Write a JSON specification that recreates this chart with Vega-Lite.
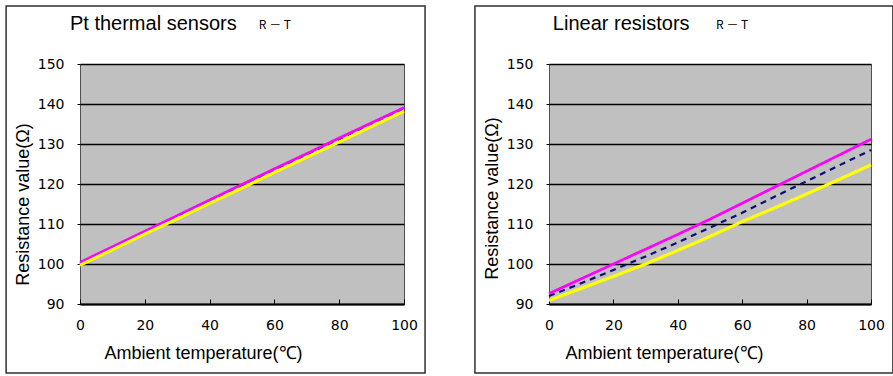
{
  "$schema": "https://vega.github.io/schema/vega-lite/v6.json",
  "background": "white",
  "padding": {"left": 4, "top": 4, "right": 0, "bottom": 0},
  "autosize": {"type": "pad"},
  "spacing": 46,
  "config": {
    "font": "Liberation Sans",
    "view": {"fill": "#c0c0c0", "stroke": "#505050", "strokeWidth": 1},
    "axis": {
      "labelFont": "DejaVu Sans",
      "labelFontSize": 14,
      "labelColor": "black",
      "labelOverlap": false,
      "labelFlush": false,
      "titleFont": "Liberation Sans",
      "titleFontSize": 18,
      "titleFontWeight": "normal",
      "titleColor": "black",
      "tickColor": "black"
    }
  },
  "datasets": {
    "curves": [
      {"panel": "Pt", "series": "navy", "t": 0, "r": 100.0},
      {"panel": "Pt", "series": "navy", "t": 10, "r": 103.9},
      {"panel": "Pt", "series": "navy", "t": 20, "r": 107.8},
      {"panel": "Pt", "series": "navy", "t": 30, "r": 111.7},
      {"panel": "Pt", "series": "navy", "t": 40, "r": 115.6},
      {"panel": "Pt", "series": "navy", "t": 50, "r": 119.6},
      {"panel": "Pt", "series": "navy", "t": 60, "r": 123.4},
      {"panel": "Pt", "series": "navy", "t": 70, "r": 127.1},
      {"panel": "Pt", "series": "navy", "t": 80, "r": 130.9},
      {"panel": "Pt", "series": "navy", "t": 90, "r": 134.7},
      {"panel": "Pt", "series": "navy", "t": 100, "r": 138.5},
      {"panel": "Pt", "series": "pink", "t": 0, "r": 100.4},
      {"panel": "Pt", "series": "pink", "t": 10, "r": 104.3},
      {"panel": "Pt", "series": "pink", "t": 20, "r": 108.2},
      {"panel": "Pt", "series": "pink", "t": 30, "r": 112.1},
      {"panel": "Pt", "series": "pink", "t": 40, "r": 116.0},
      {"panel": "Pt", "series": "pink", "t": 50, "r": 119.9},
      {"panel": "Pt", "series": "pink", "t": 60, "r": 123.8},
      {"panel": "Pt", "series": "pink", "t": 70, "r": 127.6},
      {"panel": "Pt", "series": "pink", "t": 80, "r": 131.5},
      {"panel": "Pt", "series": "pink", "t": 90, "r": 135.3},
      {"panel": "Pt", "series": "pink", "t": 100, "r": 139.1},
      {"panel": "Pt", "series": "yellow", "t": 0, "r": 99.7},
      {"panel": "Pt", "series": "yellow", "t": 10, "r": 103.6},
      {"panel": "Pt", "series": "yellow", "t": 20, "r": 107.5},
      {"panel": "Pt", "series": "yellow", "t": 30, "r": 111.3},
      {"panel": "Pt", "series": "yellow", "t": 40, "r": 115.2},
      {"panel": "Pt", "series": "yellow", "t": 50, "r": 119.0},
      {"panel": "Pt", "series": "yellow", "t": 60, "r": 122.9},
      {"panel": "Pt", "series": "yellow", "t": 70, "r": 126.7},
      {"panel": "Pt", "series": "yellow", "t": 80, "r": 130.5},
      {"panel": "Pt", "series": "yellow", "t": 90, "r": 134.4},
      {"panel": "Pt", "series": "yellow", "t": 100, "r": 138.2},
      {"panel": "Linear", "series": "navy", "t": 0, "r": 92.0},
      {"panel": "Linear", "series": "navy", "t": 10, "r": 95.2},
      {"panel": "Linear", "series": "navy", "t": 20, "r": 98.5},
      {"panel": "Linear", "series": "navy", "t": 30, "r": 101.9},
      {"panel": "Linear", "series": "navy", "t": 40, "r": 105.4},
      {"panel": "Linear", "series": "navy", "t": 50, "r": 109.1},
      {"panel": "Linear", "series": "navy", "t": 60, "r": 112.8},
      {"panel": "Linear", "series": "navy", "t": 70, "r": 116.8},
      {"panel": "Linear", "series": "navy", "t": 80, "r": 120.7},
      {"panel": "Linear", "series": "navy", "t": 90, "r": 124.6},
      {"panel": "Linear", "series": "navy", "t": 100, "r": 128.5},
      {"panel": "Linear", "series": "pink", "t": 0, "r": 92.6},
      {"panel": "Linear", "series": "pink", "t": 10, "r": 96.3},
      {"panel": "Linear", "series": "pink", "t": 20, "r": 100.0},
      {"panel": "Linear", "series": "pink", "t": 30, "r": 103.7},
      {"panel": "Linear", "series": "pink", "t": 40, "r": 107.4},
      {"panel": "Linear", "series": "pink", "t": 50, "r": 111.2},
      {"panel": "Linear", "series": "pink", "t": 60, "r": 115.2},
      {"panel": "Linear", "series": "pink", "t": 70, "r": 119.2},
      {"panel": "Linear", "series": "pink", "t": 80, "r": 123.2},
      {"panel": "Linear", "series": "pink", "t": 90, "r": 127.2},
      {"panel": "Linear", "series": "pink", "t": 100, "r": 131.2},
      {"panel": "Linear", "series": "yellow", "t": 0, "r": 90.9},
      {"panel": "Linear", "series": "yellow", "t": 10, "r": 93.9},
      {"panel": "Linear", "series": "yellow", "t": 20, "r": 96.9},
      {"panel": "Linear", "series": "yellow", "t": 30, "r": 100.0},
      {"panel": "Linear", "series": "yellow", "t": 40, "r": 103.4},
      {"panel": "Linear", "series": "yellow", "t": 50, "r": 106.9},
      {"panel": "Linear", "series": "yellow", "t": 60, "r": 110.6},
      {"panel": "Linear", "series": "yellow", "t": 70, "r": 114.0},
      {"panel": "Linear", "series": "yellow", "t": 80, "r": 117.5},
      {"panel": "Linear", "series": "yellow", "t": 90, "r": 121.1},
      {"panel": "Linear", "series": "yellow", "t": 100, "r": 124.8}
    ]
  },
  "hconcat": [
    {
      "width": 324,
      "height": 240,
      "resolve": {"axis": {"x": "independent", "y": "independent"}},
      "layer": [
        {
          "data": {"name": "curves"},
          "transform": [{"filter": "datum.panel === 'Pt'"}],
          "mark": {"type": "line", "clip": false},
          "encoding": {
            "x": {
              "field": "t", "type": "quantitative",
              "scale": {"domain": [0, 100], "nice": false},
              "axis": {
                "title": "Ambient temperature(℃)",
                "values": [0, 20, 40, 60, 80, 100],
                "grid": false,
                "domainColor": "black", "domainWidth": 2,
                "tickSize": -5, "tickWidth": 1,
                "labelPadding": 19,
                "titleX": 123, "titleY": 54, "titleBaseline": "alphabetic", "titleAlign": "center"
              }
            },
            "y": {
              "field": "r", "type": "quantitative",
              "scale": {"domain": [90, 150], "nice": false, "zero": false},
              "axis": {
                "title": "Resistance value(Ω)",
                "values": [90, 100, 110, 120, 130, 140, 150],
                "grid": true, "gridColor": "black", "gridWidth": 1.6, "gridOpacity": 1,
                "domain": false,
                "tickSize": 3, "tickWidth": 1,
                "labelPadding": 13,
                "titleX": -57, "titleY": 140, "titleBaseline": "middle", "titleAlign": "center", "titleAngle": -90
              }
            },
            "color": {
              "field": "series", "type": "nominal", "legend": null,
              "scale": {"domain": ["navy", "pink", "yellow"], "range": ["#0c0c7a", "#ff00ff", "#ffff00"]}
            },
            "strokeDash": {
              "field": "series", "type": "nominal", "legend": null,
              "scale": {"domain": ["navy", "pink", "yellow"], "range": [[6, 5], [1, 0], [1, 0]]}
            },
            "strokeWidth": {
              "field": "series", "type": "nominal", "legend": null,
              "scale": {"domain": ["navy", "pink", "yellow"], "range": [2.2, 3.2, 3.2]}
            }
          }
        },
        {
          "data": {"values": [{}]},
          "mark": {"type": "rect", "fill": "transparent", "stroke": "#303030", "strokeWidth": 1.5, "clip": false},
          "encoding": {
            "x": {"datum": -22.8, "type": "quantitative", "axis": null},
            "x2": {"datum": 106.5},
            "y": {"datum": 164.5, "type": "quantitative", "axis": null},
            "y2": {"datum": 72.75}
          }
        },
        {
          "data": {"values": [{}]},
          "mark": {"type": "text", "align": "left", "baseline": "alphabetic", "fontSize": 20, "font": "Liberation Sans", "color": "black", "clip": false},
          "encoding": {
            "x": {"datum": -3.1, "type": "quantitative", "axis": null},
            "y": {"datum": 158.5, "type": "quantitative", "axis": null},
            "text": {"value": "Pt thermal sensors"}
          }
        },
        {
          "data": {"values": [{}]},
          "mark": {"type": "text", "align": "left", "baseline": "alphabetic", "fontSize": 12, "font": "Noto Sans CJK JP", "color": "black", "clip": false},
          "encoding": {
            "x": {"datum": 55.2, "type": "quantitative", "axis": null},
            "y": {"datum": 158.7, "type": "quantitative", "axis": null},
            "text": {"value": "R － T"}
          }
        }
      ]
    },
    {
      "width": 322,
      "height": 240,
      "resolve": {"axis": {"x": "independent", "y": "independent"}},
      "layer": [
        {
          "data": {"name": "curves"},
          "transform": [{"filter": "datum.panel === 'Linear'"}],
          "mark": {"type": "line", "clip": false},
          "encoding": {
            "x": {
              "field": "t", "type": "quantitative",
              "scale": {"domain": [0, 100], "nice": false},
              "axis": {
                "title": "Ambient temperature(℃)",
                "values": [0, 20, 40, 60, 80, 100],
                "grid": false,
                "domainColor": "black", "domainWidth": 2,
                "tickSize": -5, "tickWidth": 1,
                "labelPadding": 19,
                "titleX": 115, "titleY": 54, "titleBaseline": "alphabetic", "titleAlign": "center"
              }
            },
            "y": {
              "field": "r", "type": "quantitative",
              "scale": {"domain": [90, 150], "nice": false, "zero": false},
              "axis": {
                "title": "Resistance value(Ω)",
                "values": [90, 100, 110, 120, 130, 140, 150],
                "grid": true, "gridColor": "black", "gridWidth": 1.6, "gridOpacity": 1,
                "domain": false,
                "tickSize": 3, "tickWidth": 1,
                "labelPadding": 13,
                "titleX": -57, "titleY": 134, "titleBaseline": "middle", "titleAlign": "center", "titleAngle": -90
              }
            },
            "color": {
              "field": "series", "type": "nominal", "legend": null,
              "scale": {"domain": ["navy", "pink", "yellow"], "range": ["#0c0c7a", "#ff00ff", "#ffff00"]}
            },
            "strokeDash": {
              "field": "series", "type": "nominal", "legend": null,
              "scale": {"domain": ["navy", "pink", "yellow"], "range": [[6, 5], [1, 0], [1, 0]]}
            },
            "strokeWidth": {
              "field": "series", "type": "nominal", "legend": null,
              "scale": {"domain": ["navy", "pink", "yellow"], "range": [2.2, 3.2, 3.2]}
            }
          }
        },
        {
          "data": {"values": [{}]},
          "mark": {"type": "rect", "fill": "transparent", "stroke": "#303030", "strokeWidth": 1.5, "clip": false},
          "encoding": {
            "x": {"datum": -23, "type": "quantitative", "axis": null},
            "x2": {"datum": 106.8},
            "y": {"datum": 164.5, "type": "quantitative", "axis": null},
            "y2": {"datum": 72.75}
          }
        },
        {
          "data": {"values": [{}]},
          "mark": {"type": "text", "align": "left", "baseline": "alphabetic", "fontSize": 20, "font": "Liberation Sans", "color": "black", "clip": false},
          "encoding": {
            "x": {"datum": 1.2, "type": "quantitative", "axis": null},
            "y": {"datum": 158.5, "type": "quantitative", "axis": null},
            "text": {"value": "Linear resistors"}
          }
        },
        {
          "data": {"values": [{}]},
          "mark": {"type": "text", "align": "left", "baseline": "alphabetic", "fontSize": 12, "font": "Noto Sans CJK JP", "color": "black", "clip": false},
          "encoding": {
            "x": {"datum": 51.9, "type": "quantitative", "axis": null},
            "y": {"datum": 158.7, "type": "quantitative", "axis": null},
            "text": {"value": "R － T"}
          }
        }
      ]
    }
  ]
}
